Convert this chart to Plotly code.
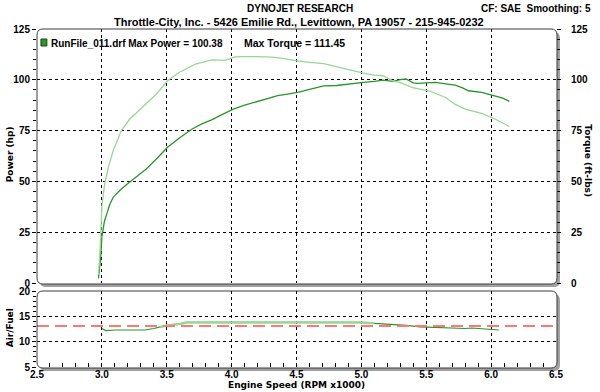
import plotly.graph_objects as go

# ---------------- data ----------------
rpm_power = [2.974, 2.99, 3.0, 3.01, 3.02, 3.038, 3.06, 3.088, 3.15, 3.215, 3.28, 3.34, 3.42, 3.506,
             3.6, 3.696, 3.77, 3.85, 3.93, 4.013, 4.1, 4.178, 4.27, 4.355, 4.43, 4.51, 4.6, 4.71,
             4.81, 4.9, 5.015, 5.1, 5.167, 5.243, 5.3, 5.344, 5.4, 5.43, 5.5, 5.572, 5.65, 5.724,
             5.78, 5.825, 5.927, 6.03, 6.09, 6.14]
power_hp = [2.3, 12, 22.7, 27, 30.5, 34, 38.5, 42.3, 46.3, 49.7, 53, 56, 61, 66.8,
            71.5, 75.8, 78.3, 80.4, 83, 85.6, 87.5, 88.9, 90.6, 92.2, 93, 93.8, 95.3, 97,
            97.2, 98, 98.7, 99.2, 99.8, 99.2, 100.1, 100.38, 98.5, 98.2, 98.6, 98.7, 98, 97.4,
            96, 94.6, 93.8, 92.2, 91, 89.4]

rpm_torque = [2.974, 2.99, 3.0, 3.02, 3.05, 3.088, 3.15, 3.215, 3.28, 3.34, 3.42, 3.506, 3.595,
              3.72, 3.85, 3.95, 4.026, 4.1, 4.178, 4.27, 4.355, 4.43, 4.507, 4.6, 4.71, 4.837,
              4.93, 5.015, 5.1, 5.167, 5.243, 5.3, 5.395, 5.52, 5.65, 5.72, 5.80, 5.927, 6.03, 6.14]
torque_ftlb = [4, 21, 38, 48, 57, 65.2, 75, 80.7, 84.5, 88, 93, 99.5, 103.6,
               107.7, 109.8, 109.6, 111.3, 111.45, 111.4, 111.3, 110.9, 110, 109.3, 108.6, 108, 106,
               104.5, 103.3, 102.3, 102, 99.5, 98.6, 96.2, 94.6, 91.3, 88, 85.6, 83.5, 80.7, 77]

rpm_af = [3.0, 3.03, 3.1, 3.2, 3.33, 3.4, 3.5, 3.6, 3.65, 4.0, 4.5, 5.0, 5.1, 5.25, 5.35, 5.45,
          5.55, 5.7, 5.8, 5.85, 5.95, 6.02, 6.06]
air_fuel = [12.6, 12.2, 12.3, 12.3, 12.3, 12.6, 13.2, 13.5, 13.8, 13.8, 13.8, 13.8, 13.6, 13.4,
            13.2, 12.9, 12.8, 12.7, 12.6, 12.7, 12.5, 12.5, 12.3]
rpm_af_light = [3.45, 3.5, 3.6, 3.65, 4.0, 4.5, 4.75, 5.0, 5.1]
air_fuel_light = [12.9, 13.2, 13.5, 13.8, 13.8, 13.8, 13.85, 13.8, 13.65]

af_target_rpm = [2.5, 6.5]
af_target = [13.1, 13.1]

x_ticks = [2.5, 3.0, 3.5, 4.0, 4.5, 5.0, 5.5, 6.0, 6.5]
x_ticklabels = ["2.5", "3.0", "3.5", "4.0", "4.5", "5.0", "5.5", "6.0", "6.5"]

# ---------------- layout helpers ----------------
W, H = 600, 392
L, R, T, B = 37, 38, 29, 25
PW, PH = W - L - R, H - T - B


def px(x):
    return (x - L) / PW


def py(y):
    return (H - B - y) / PH


def rrect(l, t, r, b, rad):
    def P(x, y):
        return f"{px(x):.5f},{py(y):.5f}"
    return (f"M {P(l+rad,t)} L {P(r-rad,t)} Q {P(r,t)} {P(r,t+rad)} "
            f"L {P(r,b-rad)} Q {P(r,b)} {P(r-rad,b)} L {P(l+rad,b)} Q {P(l,b)} {P(l,b-rad)} "
            f"L {P(l,t+rad)} Q {P(l,t)} {P(l+rad,t)} Z")


DARK = "rgb(40,150,40)"
LIGHT = "rgb(150,215,150)"
FONT = "Liberation Sans"
TFONT = "DejaVu Sans"

fig = go.Figure()

fig.add_trace(go.Scatter(x=rpm_torque, y=torque_ftlb, mode="lines", line=dict(color=LIGHT, width=1.3),
                         xaxis="x", yaxis="y3", showlegend=False))
fig.add_trace(go.Scatter(x=rpm_power, y=power_hp, mode="lines", line=dict(color=DARK, width=1.3),
                         xaxis="x", yaxis="y", showlegend=False))
fig.add_trace(go.Scatter(x=rpm_af, y=air_fuel, mode="lines", line=dict(color=DARK, width=1.2),
                         xaxis="x2", yaxis="y2", showlegend=False))
fig.add_trace(go.Scatter(x=rpm_af_light, y=air_fuel_light, mode="lines", line=dict(color=LIGHT, width=2.5),
                         xaxis="x2", yaxis="y2", showlegend=False))
fig.add_trace(go.Scatter(x=af_target_rpm, y=af_target, mode="lines",
                         line=dict(color="rgb(255,120,120)", width=2, dash="12px,6px"),
                         xaxis="x2", yaxis="y2", showlegend=False))

tickfont = dict(family=FONT, size=10, color="black", weight="bold")
grid = dict(showgrid=True, gridcolor="black", griddash="dot", gridwidth=1, zeroline=False, showline=False)

main_dom = [py(283), 1.0]
af_dom = [0.0, py(291)]

fig.update_layout(
    width=W, height=H, margin=dict(l=L, r=R, t=T, b=B),
    paper_bgcolor="white", plot_bgcolor="rgba(0,0,0,0)",
    xaxis=dict(domain=[0, 1], range=[2.5, 6.5], tickvals=x_ticks, showticklabels=False, ticks="",
               anchor="y", **grid),
    yaxis=dict(domain=main_dom, range=[0, 125], dtick=25, tickfont=tickfont, ticks="outside", ticklen=4,
               tickcolor="black", minor=dict(dtick=5, ticks="outside", ticklen=3, tickcolor="black", showgrid=False),
               anchor="x", **grid),
    yaxis3=dict(domain=main_dom, range=[0, 125], dtick=25, tickfont=tickfont, ticks="outside", ticklen=4,
                tickcolor="black", overlaying="y", side="right", anchor="x", showgrid=False, zeroline=False,
                minor=dict(dtick=5, ticks="outside", ticklen=3, tickcolor="black"), ticklabelstandoff=8),
    xaxis2=dict(domain=[0, 1], range=[2.5, 6.5], tickvals=x_ticks, ticktext=x_ticklabels, tickfont=tickfont,
                ticks="inside", ticklen=4, tickcolor="black", anchor="y2",
                minor=dict(dtick=0.1, ticks="inside", ticklen=4, tickcolor="black", showgrid=False), **grid),
    yaxis2=dict(domain=af_dom, range=[5, 20], dtick=5, tickfont=tickfont, ticks="outside", ticklen=4,
                tickcolor="black", anchor="x2",
                minor=dict(dtick=1, ticks="outside", ticklen=3, tickcolor="black", showgrid=False), **grid),
)

shapes = []
for (l, t, r, b) in [(37, 29, 563, 284), (37, 291, 563, 368)]:
    shapes.append(dict(type="path", xref="paper", yref="paper", layer="below",
                       path=rrect(l + 3, t + 3, r + 3, b + 3, 6), fillcolor="rgb(160,160,160)",
                       line=dict(width=0)))
    shapes.append(dict(type="path", xref="paper", yref="paper", layer="below",
                       path=rrect(l, t, r, b, 6), fillcolor="white", line=dict(width=0)))
    shapes.append(dict(type="path", xref="paper", yref="paper", layer="above",
                       path=rrect(l, t, r, b, 6), line=dict(color="rgb(60,60,60)", width=1)))
# legend swatch
shapes.append(dict(type="rect", xref="paper", yref="paper", layer="above",
                   x0=px(41), x1=px(47), y0=py(46), y1=py(39), fillcolor=DARK,
                   line=dict(color="rgb(20,80,20)", width=1)))
fig.update_layout(shapes=shapes)


def ann(text, x, y, size=10, xanchor="center", angle=0, family=FONT):
    fig.add_annotation(text=text, x=px(x), y=py(y), xref="paper", yref="paper", showarrow=False,
                       xanchor=xanchor, yanchor="middle", textangle=angle,
                       font=dict(family=family, size=size, color="black", weight="bold"))


ann("DYNOJET RESEARCH", 303, 8, size=10)
ann("Throttle-City, Inc. - 5426 Emilie Rd., Levittown, PA 19057 - 215-945-0232", 302, 22, size=11)
ann("CF: SAE  Smoothing: 5", 599, 8, xanchor="right", size=10)
ann("RunFile_011.drf Max Power = 100.38", 49, 43, xanchor="left")
ann("Max Torque = 111.45", 244, 43, xanchor="left", size=10.5)
ann("Power (hp)", 10, 154, angle=-90, size=9, family=TFONT)
ann("Torque (ft-lbs)", 594, 161, angle=90, size=9, family=TFONT)
ann("Air/Fuel", 10, 328, angle=-90, size=9, family=TFONT)
ann("Engine Speed (RPM x1000)", 299, 385, size=9, family=TFONT)

fig.write_html("out.html", config={"displayModeBar": False},
               post_script="document.body.style.margin='0px';document.body.style.overflow='hidden';")
